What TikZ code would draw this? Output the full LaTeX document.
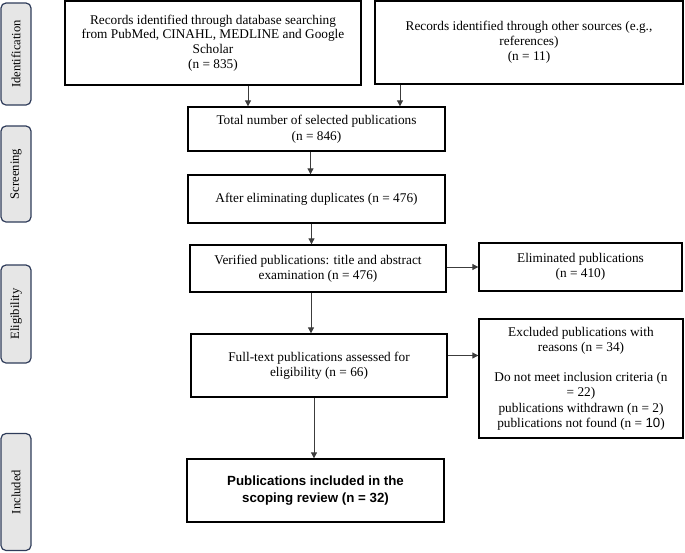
\documentclass[tikz,border=0pt]{standalone}
\usepackage{fontspec}
\setmainfont{Liberation Serif}
\newfontfamily\arialfont{Liberation Sans}
\usetikzlibrary{arrows.meta}
\definecolor{phaseborder}{RGB}{47,60,90}
\definecolor{phasefill}{RGB}{230,230,230}
\definecolor{arrowgray}{RGB}{60,60,60}
\begin{document}
\begin{tikzpicture}[x=1pt,y=-1pt,
  box/.style={draw=black,line width=1.3pt,align=center,inner sep=0pt,
    font=\fontsize{13.3}{14.8}\selectfont},
  phase/.style={draw=phaseborder,fill=phasefill,rounded corners=5pt,line width=1.2pt,
    minimum width=30pt,inner sep=0pt},
  phasetext/.style={rotate=90,font=\fontsize{12.6}{14}\selectfont},
  arr/.style={-{Triangle[length=6pt,width=6pt]},line width=0.8pt,draw=arrowgray},
]
\useasboundingbox (0,0) rectangle (685,552);

% phase labels
\node[phase,minimum height=102pt] (pid) at (16,54) {};
\node[phasetext] (tid) at (pid.center) {Identification};
\node[phase,minimum height=96pt] (psc) at (16,174) {};
\node[phasetext] (tsc) at (psc.center) {Screening};
\node[phase,minimum height=98pt] (pel) at (16,314) {};
\node[phasetext] (tel) at (pel.center) {Eligibility};
\node[phase,minimum height=117pt] (pin) at (16,492) {};
\node[phasetext] (tin) at (pin.center) {Included};

% boxes
\node[box,minimum width=296pt,minimum height=84pt] (box1) at (213,43)
  {Records identified through database searching\\from PubMed, CINAHL, MEDLINE and Google\\Scholar\\(n = 835)};
\node[box,minimum width=308pt,minimum height=83pt] (box2) at (529,42.5)
  {Records identified through other sources (e.g.,\\references)\\(n = 11)};
\node[box,minimum width=257pt,minimum height=44pt,font=\fontsize{13.3}{15.5}\selectfont] (total) at (316.5,129)
  {Total number of selected publications\\(n = 846)};
\node[box,minimum width=257pt,minimum height=48pt] (after) at (316.5,199)
  {After eliminating duplicates (n = 476)};
\node[box,minimum width=256pt,minimum height=47pt,font=\fontsize{13.3}{15.5}\selectfont] (verified) at (318,268.5)
  {Verified publications: title and abstract\\examination (n = 476)};
\node[box,minimum width=256pt,minimum height=63pt,font=\fontsize{13.3}{15.5}\selectfont] (full) at (319,365.5)
  {Full-text publications assessed for\\eligibility (n = 66)};
\node[box,minimum width=257pt,minimum height=63pt,
  font=\arialfont\bfseries\fontsize{13.3}{16.5}\selectfont] (final) at (315.5,490.5)
  {Publications included in the\\scoping review (n = 32)};
\node[box,minimum width=203pt,minimum height=48pt,font=\fontsize{13.3}{15.5}\selectfont] (elim) at (580.5,267)
  {Eliminated publications\\(n = 410)};
\node[box,minimum width=204pt,minimum height=119pt,
  font=\fontsize{13.3}{15.2}\selectfont] (excl) at (581,378.5)
  {Excluded publications with\\reasons (n = 34)\\[15.2pt]Do not meet inclusion criteria (n\\= 22)\\publications withdrawn (n = 2)\\publications not found (n = {\arialfont 10})};

% connectors
\draw[arr] ([xshift=35pt]box1.south) -- ([xshift=35pt]box1.south |- total.north);
\draw[arr] ([xshift=-129pt]box2.south) -- ([xshift=-129pt]box2.south |- total.north);
\draw[arr] ([xshift=-6pt]total.south) -- ([xshift=-6pt]total.south |- after.north);
\draw[arr] ([xshift=-5pt]after.south) -- ([xshift=-5pt]after.south |- verified.north);
\draw[arr] ([xshift=-7pt]verified.south) -- ([xshift=-7pt]verified.south |- full.north);
\draw[arr] ([xshift=-5pt]full.south) -- ([xshift=-5pt]full.south |- final.north);
\draw[arr] ([yshift=1.5pt]verified.east) -- ([yshift=1.5pt]verified.east -| elim.west);
\draw[arr] ([yshift=10pt]full.east) -- ([yshift=10pt]full.east -| excl.west);
\end{tikzpicture}
\end{document}
